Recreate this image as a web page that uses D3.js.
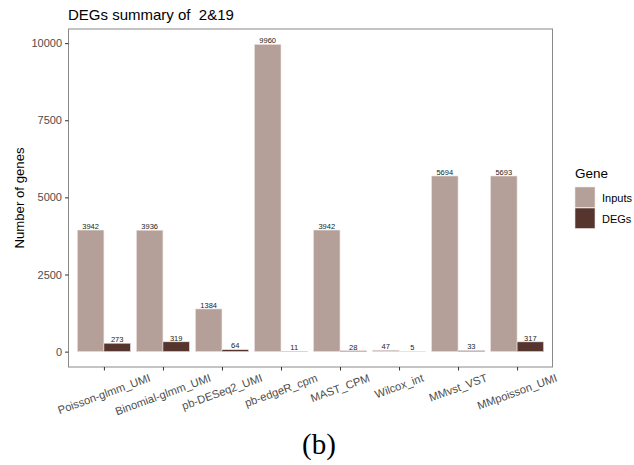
<!DOCTYPE html>
<html>
<head>
<meta charset="utf-8">
<script src="https://cdn.jsdelivr.net/npm/d3@7"></script>
<style>
  html, body { margin: 0; padding: 0; background: #fff; }
  svg { display: block; }
</style>
</head>
<body>
<svg id="chart" width="634" height="465"></svg>
<script>
// Methods compared and gene counts per method
const methods = ["Poisson-glmm_UMI", "Binomial-glmm_UMI", "pb-DESeq2_UMI", "pb-edgeR_cpm",
                 "MAST_CPM", "Wilcox_int", "MMvst_VST", "MMpoisson_UMI"];
const inputs = [3942, 3936, 1384, 9960, 3942, 47, 5694, 5693];
const degs = [273, 319, 64, 11, 28, 5, 33, 317];
const groups = ["Inputs", "DEGs"];
const yTicks = [0, 2500, 5000, 7500, 10000];

const colors = { Inputs: "#b5a099", DEGs: "#56352f" };

const svg = d3.select("#chart");
const panel = { left: 68.5, right: 552.5, top: 29, bottom: 367 };

// Discrete x positions with 0.6 step expansion on each side
const x = d3.scalePoint().domain(methods).range([panel.left, panel.right]).padding(0.6);
const step = x.step();
const xSub = d3.scaleBand().domain(groups).range([-0.45 * step, 0.45 * step]).padding(0);

// Continuous y with 5% expansion of the data range
const yMax = d3.max(inputs);
const y = d3.scaleLinear().domain([-0.05 * yMax, yMax * 1.05]).range([panel.bottom, panel.top]);

const rows = methods.map((m, i) => ({ method: m, values: [
  { group: "Inputs", value: inputs[i] },
  { group: "DEGs", value: degs[i] }
]}));

// Bars with value labels
const g = svg.append("g");
rows.forEach(r => {
  r.values.forEach(v => {
    const x0 = x(r.method) + xSub(v.group);
    g.append("rect")
      .attr("x", x0)
      .attr("y", y(v.value))
      .attr("width", xSub.bandwidth())
      .attr("height", y(0) - y(v.value))
      .attr("fill", colors[v.group])
      .attr("stroke", "#efe5e3")
      .attr("stroke-width", 0.6);
    g.append("text")
      .attr("x", x0 + xSub.bandwidth() / 2)
      .attr("y", y(v.value) - 1.2)
      .attr("text-anchor", "middle")
      .attr("font-family", "Liberation Sans, Arial, sans-serif")
      .attr("font-size", 7.5)
      .attr("fill", "#222")
      .text(v.value);
  });
});

// Panel border
svg.append("rect")
  .attr("x", panel.left).attr("y", panel.top)
  .attr("width", panel.right - panel.left).attr("height", panel.bottom - panel.top)
  .attr("fill", "none").attr("stroke", "#8a8a8a").attr("stroke-width", 1);

// Y axis
const yAxis = svg.append("g")
  .attr("transform", `translate(${panel.left},0)`)
  .call(d3.axisLeft(y).tickValues(yTicks).tickSize(3.5).tickPadding(3).tickFormat(d3.format("d")));
yAxis.select(".domain").remove();
yAxis.selectAll(".tick line").attr("stroke", "#333").attr("stroke-width", 1);
yAxis.selectAll(".tick text")
  .attr("font-family", "Liberation Sans, Arial, sans-serif")
  .attr("font-size", 11).attr("fill", "#4d4d4d");

// X axis
const xAxis = svg.append("g")
  .attr("transform", `translate(0,${panel.bottom})`)
  .call(d3.axisBottom(x).tickSize(3.5).tickFormat(""));
xAxis.select(".domain").remove();
xAxis.selectAll(".tick line").attr("stroke", "#333").attr("stroke-width", 1);

// Rotated x labels, centred under ticks, top edge aligned
const ang = 20 * Math.PI / 180;
const labelTop = 372.5;
const lh = 10;
methods.forEach(m => {
  const t = svg.append("text")
    .attr("text-anchor", "middle")
    .attr("dominant-baseline", "central")
    .attr("font-family", "Liberation Sans, Arial, sans-serif")
    .attr("font-size", 11.2)
    .attr("fill", "#4d4d4d")
    .text(m);
  const w = t.node().getComputedTextLength();
  const cy = labelTop + (w / 2) * Math.sin(ang) + (lh / 2) * Math.cos(ang);
  t.attr("transform", `translate(${x(m)},${cy}) rotate(-20)`);
});

// Titles
svg.append("text")
  .attr("x", 68).attr("y", 19.5)
  .attr("font-family", "Liberation Sans, Arial, sans-serif")
  .attr("font-size", 15).attr("fill", "#000")
  .attr("xml:space", "preserve")
  .style("white-space", "pre")
  .text("DEGs summary of  2&19");

svg.append("text")
  .attr("transform", `translate(24,${(panel.top + panel.bottom) / 2}) rotate(-90)`)
  .attr("text-anchor", "middle")
  .attr("font-family", "Liberation Sans, Arial, sans-serif")
  .attr("font-size", 13.2).attr("fill", "#000")
  .text("Number of genes");

// Legend
const lg = svg.append("g").attr("transform", "translate(575,0)");
lg.append("text")
  .attr("x", 0).attr("y", 177.5)
  .attr("font-family", "Liberation Sans, Arial, sans-serif")
  .attr("font-size", 13.5).attr("fill", "#000")
  .text("Gene");
groups.forEach((gname, i) => {
  const top = 187 + i * 21;
  lg.append("rect")
    .attr("x", 0).attr("y", top).attr("width", 20).attr("height", 20.5)
    .attr("fill", colors[gname]).attr("stroke", "#efe5e3").attr("stroke-width", 0.6);
  lg.append("text")
    .attr("x", 27).attr("y", top + 10.5)
    .attr("dominant-baseline", "central")
    .attr("font-family", "Liberation Sans, Arial, sans-serif")
    .attr("font-size", 11).attr("fill", "#000")
    .text(gname);
});

// Caption
svg.append("text")
  .attr("x", 319).attr("y", 454)
  .attr("text-anchor", "middle")
  .attr("font-family", "Liberation Serif, serif")
  .attr("font-size", 29).attr("fill", "#000")
  .text("(b)");
</script>
</body>
</html>
